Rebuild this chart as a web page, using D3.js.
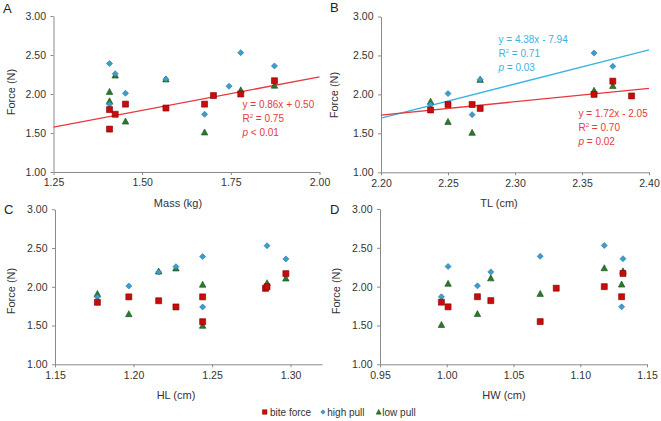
<!DOCTYPE html>
<html>
<head>
<meta charset="utf-8">
<script src="https://cdn.jsdelivr.net/npm/d3@7"></script>
<style>
  html, body { margin: 0; padding: 0; background: #fff; }
  svg { display: block; }
</style>
</head>
<body>
<svg id="chart" width="661" height="421"></svg>
<script>
// ---------------- DATA ----------------
const forceTicks = [1.00, 1.50, 2.00, 2.50, 3.00];
const massTicks = [1.25, 1.50, 1.75, 2.00];
const tlTicks = [2.20, 2.25, 2.30, 2.35, 2.40];
const hlTicks = [1.15, 1.20, 1.25, 1.30];
const hwTicks = [0.95, 1.00, 1.05, 1.10, 1.15];

// Panel A: Mass (kg) vs Force (N)
const massBite = [[1.408,1.80],[1.408,1.55],[1.424,1.74],[1.453,1.87],[1.567,1.82],[1.676,1.87],[1.701,1.98],[1.778,2.00],[1.873,2.17]];
const massHigh = [[1.408,2.39],[1.424,2.26],[1.408,1.87],[1.453,2.01],[1.567,2.19],[1.676,1.74],[1.745,2.10],[1.778,2.53],[1.873,2.36]];
const massLow  = [[1.408,2.03],[1.408,1.91],[1.424,2.24],[1.453,1.65],[1.567,2.19],[1.676,1.51],[1.778,2.05],[1.873,2.11]];

// Panel B: TL (cm) vs Force (N)
const tlBite = [[2.237,1.80],[2.250,1.87],[2.268,1.87],[2.274,1.82],[2.359,2.00],[2.373,2.17],[2.387,1.98]];
const tlHigh = [[2.237,1.87],[2.250,2.01],[2.268,1.74],[2.274,2.19],[2.359,2.53],[2.373,2.36]];
const tlLow  = [[2.237,1.91],[2.250,1.65],[2.268,1.51],[2.274,2.19],[2.359,2.05],[2.373,2.11]];

// Panel C: HL (cm) vs Force (N)
const hlBite = [[1.177,1.80],[1.197,1.87],[1.216,1.82],[1.227,1.74],[1.244,1.87],[1.244,1.55],[1.284,1.98],[1.285,2.00],[1.297,2.17]];
const hlHigh = [[1.177,1.87],[1.197,2.01],[1.216,2.19],[1.227,2.26],[1.244,2.39],[1.244,1.74],[1.285,2.53],[1.297,2.36]];
const hlLow  = [[1.177,1.91],[1.197,1.65],[1.216,2.20],[1.227,2.24],[1.244,2.03],[1.244,1.50],[1.285,2.05],[1.297,2.11]];

// Panel D: HW (cm) vs Force (N)
const hwBite = [[0.996,1.80],[1.001,1.74],[1.023,1.87],[1.033,1.82],[1.070,1.55],[1.082,1.98],[1.118,2.00],[1.131,1.87],[1.132,2.17]];
const hwHigh = [[0.996,1.87],[1.001,2.26],[1.023,2.01],[1.033,2.19],[1.070,2.39],[1.118,2.53],[1.132,2.36],[1.131,1.74]];
const hwLow  = [[0.996,1.51],[1.001,2.04],[1.023,1.65],[1.033,2.11],[1.070,1.91],[1.118,2.24],[1.131,2.03],[1.132,2.20]];

// Regression fits [slope, intercept]
const fitMassBite = [0.86, 0.50];
const fitTlBite = [1.72, -2.05];
const fitTlHigh = [4.38, -7.94];

// Fit annotation texts [equation, R², p]
const noteMassBite = ["y = 0.86x + 0.50", "0.75", "< 0.01"];
const noteTlHigh = ["y = 4.38x - 7.94", "0.71", "= 0.03"];
const noteTlBite = ["y = 1.72x - 2.05", "0.70", "= 0.02"];

const seriesNames = ["bite force", "high pull", "low pull"];

// ---------------- STYLE ----------------
const FONT = "'Liberation Sans', Arial, Helvetica, sans-serif";
const COL = {
  bite: "#cc0a0a", biteStroke: "#7a0000",
  high: "#3a9fcf", highStroke: "#1e6f98",
  low: "#2b7a2b", lowStroke: "#164a16",
  redLine: "#e8383d", blueLine: "#38b3e3",
  axis: "#8a8a8a", text: "#333333"
};

const svg = d3.select("#chart");

function shapePath(type, s) {
  const p = d3.path();
  if (type === "square") {
    p.rect(-s/2, -s/2, s, s);
  } else if (type === "diamond") {
    p.moveTo(0, -s/2); p.lineTo(s/2, 0); p.lineTo(0, s/2); p.lineTo(-s/2, 0); p.closePath();
  } else {
    const h = s * 0.85;
    p.moveTo(0, -h/2 - 0.5); p.lineTo(s/2, h/2); p.lineTo(-s/2, h/2); p.closePath();
  }
  return p.toString();
}

const panels = [
  { letter: "A", lx: 3, ly: 12.5, x0: 53.5, x1: 319.5, y0: 16, y1: 172, domain: [1.25, 2.00], ticks: massTicks,
    title: "Mass (kg)", tx: 178, ty: 206.5, ytx: 14.5, yty: 92,
    bite: massBite, high: massHigh, low: massLow,
    fits: [{ f: fitMassBite, c: COL.redLine }],
    notes: [{ t: noteMassBite, x: 242.5, y: 107.7, c: COL.redLine }] },
  { letter: "B", lx: 330, ly: 12, x0: 381, x1: 649, y0: 16.5, y1: 172.3, domain: [2.20, 2.40], ticks: tlTicks,
    title: "TL (cm)", tx: 499, ty: 206.5, ytx: 338, yty: 95,
    bite: tlBite, high: tlHigh, low: tlLow,
    fits: [{ f: fitTlHigh, c: COL.blueLine }, { f: fitTlBite, c: COL.redLine }],
    notes: [{ t: noteTlHigh, x: 498.5, y: 42.8, c: COL.blueLine }, { t: noteTlBite, x: 578.5, y: 116.5, c: COL.redLine }] },
  { letter: "C", lx: 4, ly: 213.5, x0: 55, x1: 322, y0: 209.3, y1: 364.3, domain: [1.15, 1.32], ticks: hlTicks,
    title: "HL (cm)", tx: 176, ty: 399, ytx: 14.5, yty: 291,
    bite: hlBite, high: hlHigh, low: hlLow, fits: [], notes: [] },
  { letter: "D", lx: 330, ly: 213.5, x0: 380, x1: 647, y0: 209, y1: 364.3, domain: [0.95, 1.15], ticks: hwTicks,
    title: "HW (cm)", tx: 504, ty: 399, ytx: 340, yty: 291,
    bite: hwBite, high: hwHigh, low: hwLow, fits: [], notes: [] }
];

panels.forEach(P => {
  const x = d3.scaleLinear().domain(P.domain).range([P.x0, P.x1]);
  const y = d3.scaleLinear().domain([1, 3]).range([P.y1, P.y0]);
  const g = svg.append("g");

  // axes
  const yAxis = d3.axisLeft(y).tickValues(forceTicks).tickFormat(d3.format(".2f")).tickSize(3).tickSizeOuter(0).tickPadding(4.5);
  const xAxis = d3.axisBottom(x).tickValues(P.ticks).tickFormat(d3.format(".2f")).tickSize(3).tickSizeOuter(0).tickPadding(4);
  const ya = g.append("g").attr("transform", `translate(${P.x0},0)`).call(yAxis);
  const xa = g.append("g").attr("transform", `translate(0,${P.y1})`).call(xAxis);
  [ya, xa].forEach(a => {
    a.select(".domain").attr("stroke", COL.axis).attr("stroke-width", 1);
    a.selectAll(".tick line").attr("stroke", COL.axis);
    a.selectAll(".tick text").attr("fill", COL.text).style("font-family", FONT).style("font-size", "10.5px");
  });

  // fit lines
  P.fits.forEach(F => {
    const xs = P.domain;
    g.append("line")
      .attr("x1", x(xs[0])).attr("y1", y(F.f[0] * xs[0] + F.f[1]))
      .attr("x2", x(xs[1])).attr("y2", y(F.f[0] * xs[1] + F.f[1]))
      .attr("stroke", F.c).attr("stroke-width", 1.3);
  });

  // markers: low, high, then bite on top
  const layers = [
    { d: P.low, type: "triangle", s: 6.5, fill: COL.low, stroke: COL.lowStroke },
    { d: P.high, type: "diamond", s: 6, fill: COL.high, stroke: COL.highStroke },
    { d: P.bite, type: "square", s: 6, fill: COL.bite, stroke: COL.biteStroke }
  ];
  layers.forEach(L => {
    g.append("g").selectAll("path").data(L.d).join("path")
      .attr("d", shapePath(L.type, L.s))
      .attr("transform", d => `translate(${x(d[0])},${y(d[1])})`)
      .attr("fill", L.fill).attr("stroke", L.stroke).attr("stroke-width", 0.6);
  });

  // fit notes
  P.notes.forEach(N => {
    const t = g.append("g").style("font-family", FONT).style("font-size", "10px").attr("fill", N.c);
    t.append("text").attr("x", N.x).attr("y", N.y).text(N.t[0]);
    const r = t.append("text").attr("x", N.x).attr("y", N.y + 14.3);
    r.append("tspan").text("R");
    r.append("tspan").attr("font-size", "6px").attr("dy", -4).text("2");
    r.append("tspan").attr("dy", 4).text(" = " + N.t[1]);
    const p = t.append("text").attr("x", N.x).attr("y", N.y + 28.6);
    p.append("tspan").attr("font-style", "italic").text("p");
    p.append("tspan").text(" " + N.t[2]);
  });

  // titles
  g.append("text").attr("x", P.tx).attr("y", P.ty).attr("text-anchor", "middle")
    .style("font-family", FONT).style("font-size", "11px").attr("fill", COL.text).text(P.title);
  g.append("text").attr("transform", `translate(${P.ytx},${P.yty}) rotate(-90)`).attr("text-anchor", "middle")
    .style("font-family", FONT).style("font-size", "11px").attr("fill", COL.text).text("Force (N)");
  g.append("text").attr("x", P.lx).attr("y", P.ly)
    .style("font-family", FONT).style("font-size", "13px").attr("fill", "#222").text(P.letter);
});

// legend
const legendItems = [
  { name: seriesNames[0], type: "square", s: 4.5, fill: COL.bite, stroke: COL.biteStroke, mx: 264.7, tx: 270 },
  { name: seriesNames[1], type: "diamond", s: 4.5, fill: COL.high, stroke: COL.highStroke, mx: 323, tx: 327.3 },
  { name: seriesNames[2], type: "triangle", s: 5, fill: COL.low, stroke: COL.lowStroke, mx: 378.7, tx: 382.3 }
];
const lg = svg.append("g");
legendItems.forEach(it => {
  lg.append("path").attr("d", shapePath(it.type, it.s)).attr("transform", `translate(${it.mx},412)`)
    .attr("fill", it.fill).attr("stroke", it.stroke).attr("stroke-width", 0.5);
  lg.append("text").attr("x", it.tx).attr("y", 415.5).style("font-family", FONT).style("font-size", "10px")
    .attr("fill", COL.text).text(it.name);
});
</script>
</body>
</html>
